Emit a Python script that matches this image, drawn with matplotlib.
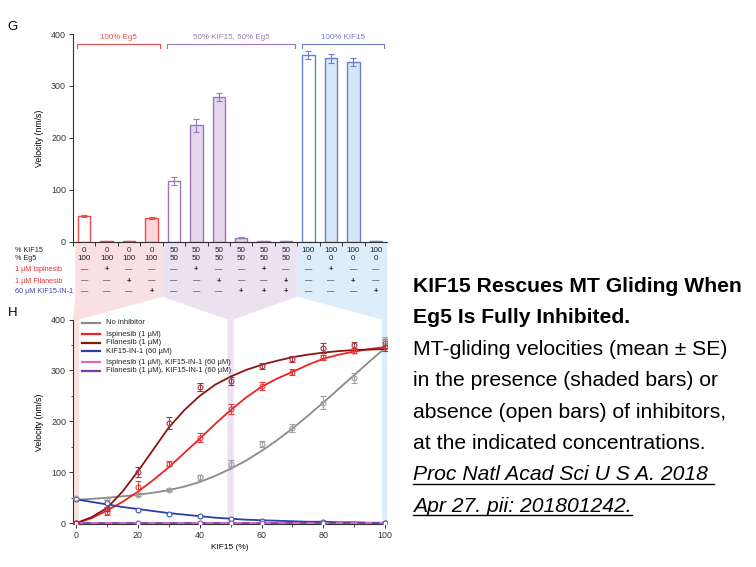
import matplotlib
matplotlib.use("Agg")
import matplotlib.pyplot as plt
from matplotlib.patches import Polygon
from matplotlib.lines import Line2D
from matplotlib.ticker import MultipleLocator

plt.rcParams["font.family"] = ["Liberation Sans", "DejaVu Sans"]

# ---- panel G: bar chart + condition table ----
kif15_pct = [0, 0, 0, 0, 50, 50, 50, 50, 50, 50, 100, 100, 100, 100]
eg5_pct = [100, 100, 100, 100, 50, 50, 50, 50, 50, 50, 0, 0, 0, 0]
ispinesib_on = [0, 1, 0, 0, 0, 1, 0, 0, 1, 0, 0, 1, 0, 0]
filanesib_on = [0, 0, 1, 0, 0, 0, 1, 0, 0, 1, 0, 0, 1, 0]
kif15in1_on = [0, 0, 0, 1, 0, 0, 0, 1, 1, 1, 0, 0, 0, 1]
bar_velocity = [49, 1, 1, 46, 117, 224, 279, 8, 1, 1, 360, 353, 346, 1]
bar_se = [1.5, 0.5, 0.5, 2.5, 7, 12, 8, 1, 0.5, 0.5, 8, 9, 8, 0.5]
group_names = ["100% Eg5", "50% KIF15, 50% Eg5", "100% KIF15"]
group_sizes = [4, 6, 4]
row_labels = ["% KIF15", "% Eg5", "1 \u00b5M Ispinesib", "1 \u00b5M Filanesib",
              "60 \u00b5M KIF15-IN-1"]

# ---- panel H: titration curves ----
kif15_x = [0, 10, 20, 30, 40, 50, 60, 70, 80, 90, 100]
none_v = [49, 47, 56, 66, 90, 117, 155, 187, 237, 285, 358]
none_se = [1, 2, 3, 3, 5, 7, 6, 8, 12, 10, 8]
isp_v = [0, 23, 71, 117, 168, 224, 270, 297, 326, 339, 353]
isp_se = [0.5, 7, 12, 5, 9, 10, 8, 6, 5, 5, 9]
fil_v = [0, 28, 101, 197, 267, 279, 309, 322, 344, 349, 346]
fil_se = [0.5, 4, 10, 12, 8, 8, 6, 6, 9, 6, 8]
inh_x = [0, 10, 20, 30, 40, 50, 60, 80, 100]
inh_v = [47, 39, 26, 19, 14, 8, 4, 2, 1]
combo_x = [0, 20, 40, 50, 60, 80, 100]
combo_v = [1, 1, 1, 1, 1, 1, 1]

fit_x = [0, 5, 10, 15, 20, 25, 30, 35, 40, 45, 50, 55, 60, 65, 70, 75, 80, 85, 90, 95, 100]
none_fit = [46, 48, 50, 53, 56, 60, 65, 72, 81, 93, 107, 123, 142, 163, 186, 211, 237, 264, 291, 318, 344]
isp_fit = [0, 10, 25, 42, 62, 85, 110, 138, 166, 195, 222, 247, 268, 284, 297, 311, 323, 331, 337, 342, 346]
fil_fit = [0, 12, 30, 62, 102, 145, 188, 222, 250, 272, 288, 301, 311, 319, 326, 331, 335, 338, 340, 341, 342]
inh_fit = [47, 42, 37, 32, 28, 24, 20, 17, 14, 11, 9, 7, 6, 5, 4, 3, 3, 2, 2, 1, 1]
combo_fit = [1] * 21

# colours
edge_cols = ["#ef4b4b", "#9a78b8", "#6a80c8"]
fill_cols = ["#fbd5d8", "#e4d6eb", "#d3e7f6"]
band_cols = ["#fbe0e3", "#ebe1f0", "#ddedf9"]
red_lab = "#e0303a"
blue_lab = "#3a4aa8"

fig = plt.figure(figsize=(7.56, 5.67), dpi=100)
W, H = 756, 567


def frac_box(x0, y0, x1, y1):
    return [x0 / W, 1 - y1 / H, (x1 - x0) / W, (y1 - y0) / H]


axG = fig.add_axes(frac_box(73, 34, 387, 241.7))
axH = fig.add_axes(frac_box(73, 319.5, 387, 524.3))
for ax in (axG, axH):
    ax.set_facecolor("none")
    ax.spines[["top", "right"]].set_visible(False)
    for s in ("left", "bottom"):
        ax.spines[s].set_linewidth(0.8)
        ax.spines[s].set_color("#333333")
    ax.tick_params(labelsize=6.4, width=0.7, length=3, colors="#333333", pad=2)
    ax.tick_params(which="minor", width=0.6, length=1.8, colors="#333333")

# ---- G bars ----
group_of = []
for g, n in enumerate(group_sizes):
    group_of += [g] * n
xs = list(range(len(bar_velocity)))
for i in xs:
    g = group_of[i]
    shaded = ispinesib_on[i] or filanesib_on[i] or kif15in1_on[i]
    axG.bar(i, bar_velocity[i], width=0.55, color=fill_cols[g] if shaded else "white",
            edgecolor=edge_cols[g], linewidth=1.0, zorder=2)
    axG.errorbar(i, bar_velocity[i], yerr=bar_se[i], fmt="none", ecolor=edge_cols[g],
                 elinewidth=0.8, capsize=2.5, capthick=0.8, zorder=3)

axG.set_xlim(-0.4, 13.5)
axG.set_ylim(0, 400)
axG.yaxis.set_major_locator(MultipleLocator(100))
axG.set_xticks([k + 0.5 for k in range(-1, 13)])
axG.set_xticklabels([])
axG.set_ylabel("Velocity (nm/s)", fontsize=6.3, labelpad=5)

# group brackets
start = 0
for g, n in enumerate(group_sizes):
    x0, x1 = start - 0.3, start + n - 1 + 0.38
    axG.plot([x0, x0, x1, x1], [374, 381, 381, 374], color=edge_cols[g], lw=0.8,
             clip_on=False)
    axG.text((x0 + x1) / 2, 386, group_names[g], color=edge_cols[g], fontsize=5.8,
             ha="center", va="bottom")
    start += n

# condition table beneath the bars
row_y = [-16, -33, -54.5, -75.7, -96]
row_cols = ["#222222", "#222222", red_lab, red_lab, blue_lab]
rows = [
    [str(v) for v in kif15_pct],
    [str(v) for v in eg5_pct],
    ["+" if v else "\u2014" for v in ispinesib_on],
    ["+" if v else "\u2014" for v in filanesib_on],
    ["+" if v else "\u2014" for v in kif15in1_on],
]
for r, (lab, y) in enumerate(zip(row_labels, row_y)):
    axG.text(-3.1, y, lab, fontsize=5.2, color=row_cols[r], ha="left", va="center")
    for i in xs:
        axG.text(i, y, rows[r][i], fontsize=5.8 if r < 2 else 5.3, color="#222222",
                 ha="center", va="center",
                 fontweight="bold" if rows[r][i] == "+" else "normal")

# ---- H curves ----
axH.plot(fit_x, none_fit, color="#8a8a8a", lw=1.3, zorder=3)
axH.plot(fit_x, isp_fit, color="#ee2222", lw=1.3, zorder=4)
axH.plot(fit_x, fil_fit, color="#8b1515", lw=1.3, zorder=4)
axH.plot(fit_x, inh_fit, color="#2a3fa8", lw=1.3, zorder=4)
axH.plot(fit_x, combo_fit, color="#7a3ca8", lw=1.3, zorder=4)
axH.plot(fit_x, combo_fit, color="#d66ac4", lw=1.3, dashes=(4, 4), zorder=5)

mk = dict(fmt="o", mfc="none", ms=3.5, mew=0.8, elinewidth=0.7, capsize=2, capthick=0.7)
axH.errorbar(kif15_x, none_v, yerr=none_se, color="#a0a0a0", zorder=6, **mk)
axH.errorbar(kif15_x, isp_v, yerr=isp_se, color="#ee3a3a", zorder=6, **mk)
axH.errorbar(kif15_x, fil_v, yerr=fil_se, color="#a33340", zorder=6, **mk)
axH.plot(inh_x, inh_v, "o", mfc="white", mec="#3a50b0", ms=3.5, mew=0.8, zorder=6)
axH.plot(combo_x, combo_v, "o", mfc="white", mec="#8050b0", ms=3.5, mew=0.8, zorder=6)

axH.set_xlim(-1, 100.6)
axH.set_ylim(-2, 400)
axH.xaxis.set_major_locator(MultipleLocator(20))
axH.xaxis.set_minor_locator(MultipleLocator(10))
axH.yaxis.set_major_locator(MultipleLocator(100))
axH.yaxis.set_minor_locator(MultipleLocator(50))
axH.set_xlabel("KIF15 (%)", fontsize=6, labelpad=3)
axH.set_ylabel("Velocity (nm/s)", fontsize=6.3, labelpad=5)

# manual legend
leg = [
    ("No inhibitor", "#8a8a8a", 0.983),
    ("Ispinesib (1 \u00b5M)", "#ee2222", 0.929),
    ("Filanesib (1 \u00b5M)", "#8b1515", 0.887),
    ("KIF15-IN-1 (60 \u00b5M)", "#2a3fa8", 0.845),
    ("Ispinesib (1 \u00b5M), KIF15-IN-1 (60 \u00b5M)", "#d66ac4", 0.792),
    ("Filanesib (1 \u00b5M), KIF15-IN-1 (60 \u00b5M)", "#7a3ca8", 0.750),
]
for lab, c, y in leg:
    axH.plot([0.029, 0.086], [y, y], color=c, lw=1.6, transform=axH.transAxes,
             clip_on=False)
    axH.text(0.105, y, lab, fontsize=5.5, color="#222222", va="center",
             transform=axH.transAxes)

# ---- shaded bands joining table columns to the titration points ----
to_fig = fig.transFigure.inverted()


def gpt(x, y):
    return to_fig.transform(axG.transData.transform((x, y)))


def hpt(x, y):
    return to_fig.transform(axH.transData.transform((x, y)))


yT = -106
edges = [-0.4, 3.5, 9.5, 13.5]
strips = [(-1, 1), (49, 51), (99, 100.6)]
for g in range(3):
    xl, xr = edges[g], edges[g + 1]
    sl, sr = strips[g]
    verts = [gpt(xl, 0), gpt(xr, 0), gpt(xr, yT), hpt(sr, 400), hpt(sr, -2),
             hpt(sl, -2), hpt(sl, 400), gpt(xl, yT)]
    fig.add_artist(Polygon(verts, closed=True, facecolor=band_cols[g], edgecolor="none",
                           transform=fig.transFigure, zorder=-1))

# panel letters
fig.text(13 / W, 1 - 27 / H, "G", fontsize=9.5, ha="center", va="center")
fig.text(13 / W, 1 - 313 / H, "H", fontsize=9.5, ha="center", va="center")

# ---- caption on the right ----
cap_x = 413 / W
cap_size = 15.2
title_lines = ["KIF15 Rescues MT Gliding When", "Eg5 Is Fully Inhibited."]
body_lines = ["MT-gliding velocities (mean \u00b1 SE)", "in the presence (shaded bars) or",
              "absence (open bars) of inhibitors,", "at the indicated concentrations."]
cite_lines = ["Proc Natl Acad Sci U S A. 2018 ", "Apr 27. pii: 201801242."]
baselines = [292 + 31.4 * k for k in range(8)]
k = 0
for t in title_lines:
    fig.text(cap_x, 1 - baselines[k] / H, t, fontsize=cap_size, fontweight="bold",
             va="baseline")
    k += 1
for t in body_lines:
    fig.text(cap_x, 1 - baselines[k] / H, t, fontsize=cap_size, va="baseline")
    k += 1
cite_texts = []
for t in cite_lines:
    cite_texts.append(fig.text(cap_x, 1 - baselines[k] / H, t, fontsize=cap_size,
                               style="italic", va="baseline"))
    k += 1

fig.canvas.draw()
rend = fig.canvas.get_renderer()
for t in cite_texts:
    bb = t.get_window_extent(rend)
    x0, _ = to_fig.transform((bb.x0, 0))
    x1, _ = to_fig.transform((bb.x1, 0))
    yb = t.get_position()[1] - 3.5 / H
    fig.add_artist(Line2D([x0, x1], [yb, yb], color="black", lw=1.0,
                          transform=fig.transFigure))

fig.savefig("out.png", dpi=100)
